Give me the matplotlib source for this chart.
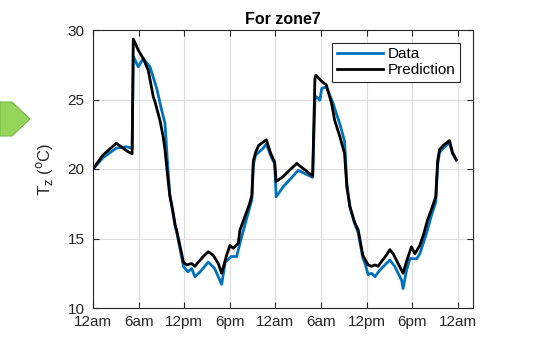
import matplotlib
matplotlib.use("Agg")
import matplotlib.pyplot as plt
from matplotlib.patches import Polygon

plt.rcParams['font.family'] = ['Liberation Sans', 'DejaVu Sans']

# hours since the first midnight
pred_t = [0, 1.3, 3.05, 4.6, 5.15, 5.3, 5.96, 6.61, 7.27, 7.93, 8.15, 8.81, 9.24, 9.47,
          9.8, 10.1, 10.5, 10.8, 11.0, 11.9, 12.32, 12.98, 13.41, 13.85, 14.51, 15.16,
          15.82, 16.48, 16.93, 17.58, 18.02, 18.45, 19.11, 19.33, 19.8, 20.2, 20.6, 20.9,
          21.1, 21.4, 21.8, 22.8, 23.4, 23.9, 24.1, 25.0, 26.8, 28.9, 29.2, 29.33, 30.1,
          30.7, 31.4, 31.8, 32.5, 33.1, 33.4, 33.8, 34.4, 34.9, 35.5, 36.2, 36.65, 37.1,
          37.5, 37.97, 38.6, 39.06, 39.5, 40.15, 40.8, 41.25, 41.9, 42.35, 43.0, 43.5,
          44.0, 44.6, 45.1, 45.35, 45.6, 46.1, 46.9, 47.3, 47.8]
pred_v = [20.0, 21.0, 21.85, 21.25, 21.1, 29.35, 28.55, 27.95, 27.1, 25.2, 24.85, 23.5, 22.3, 21.4,
          19.6, 18.1, 17.0, 16.0, 15.6, 13.3, 13.1, 13.2, 13.0, 13.3, 13.7, 14.05,
          13.8, 13.2, 12.5, 13.8, 14.5, 14.3, 14.65, 15.6, 16.3, 16.9, 17.5, 18.1,
          20.6, 21.2, 21.7, 22.1, 21.1, 20.5, 19.1, 19.45, 20.4, 19.5, 26.5, 26.75, 26.3,
          26.05, 24.7, 23.5, 22.3, 21.1, 18.7, 17.3, 16.2, 15.6, 13.8, 13.1, 13.0, 13.1,
          13.0, 13.35, 13.8, 14.2, 13.9, 13.2, 12.5, 13.35, 14.4, 13.9, 14.5, 15.3,
          16.3, 17.2, 18.0, 20.6, 21.4, 21.7, 22.05, 21.2, 20.65]

data_t = [0, 1.3, 3.05, 4.4, 5.15, 5.3, 5.96, 6.61, 7.5, 8.38, 9.03, 9.47, 9.8, 10.1,
          10.5, 10.8, 11.0, 11.9, 12.1, 12.5, 12.98, 13.41, 14.1, 15.16, 16.0, 16.93,
          17.4, 18.2, 18.9, 19.33, 20.0, 20.9, 21.1, 21.4, 22.4, 22.8, 23.5, 23.9, 24.1,
          25.0, 27.0, 28.9, 29.2, 29.4, 29.85, 30.1, 30.7, 31.6, 32.5, 33.1, 33.4, 33.8,
          34.4, 34.9, 35.5, 35.8, 36.2, 36.65, 37.1, 37.7, 39.06, 39.7, 40.6, 40.8, 41.25,
          41.7, 42.6, 43.0, 43.9, 44.6, 45.1, 45.35, 45.6, 46.1, 46.9, 47.3, 47.8]
data_v = [20.0, 20.8, 21.5, 21.6, 21.5, 28.1, 27.35, 27.95, 27.35, 25.8, 24.25, 23.3, 20.5, 18.2,
          16.9, 15.9, 15.5, 13.0, 12.85, 12.6, 12.85, 12.25, 12.6, 13.3, 12.85, 11.7,
          13.3, 13.7, 13.7, 14.65, 16.0, 17.8, 20.3, 21.0, 21.5, 21.8, 20.8, 20.4, 18.0,
          18.7, 19.9, 19.4, 25.0, 25.2, 24.95, 25.8, 25.9, 24.7, 23.2, 22.0, 19.0, 17.3,
          16.1, 15.4, 13.6, 13.2, 12.4, 12.5, 12.25, 12.7, 13.45, 13.0, 12.0, 11.4, 12.7,
          13.55, 13.55, 13.9, 15.4, 16.8, 17.6, 20.3, 21.2, 21.5, 21.9, 21.1, 20.65]

tick_hours = [0, 6, 12, 18, 24, 30, 36, 42, 48]
tick_labels = ['12am', '6am', '12pm', '6pm', '12am', '6am', '12pm', '6pm', '12am']

fig = plt.figure(figsize=(5.39, 3.39), dpi=100)
ax = fig.add_axes([93/539, 1 - 308/339, 380/539, 278/339])

# green arrow tip from the slide, cut off at the left edge
fig.patches.append(Polygon([(0, 1 - 102/339), (12/539, 1 - 102/339), (30/539, 1 - 119/339),
                            (12/539, 1 - 136/339), (0, 1 - 136/339)],
                           closed=True, transform=fig.transFigure,
                           facecolor='#95d65a', edgecolor='#74bb45', lw=0.8))

ax.plot(data_t, data_v, color='#0072BD', lw=2.0, label='Data', solid_joinstyle='round')
ax.plot(pred_t, pred_v, color='k', lw=2.0, label='Prediction', solid_joinstyle='round')

ax.set_xlim(0, 50)
ax.set_ylim(10, 30)
ax.set_xticks(tick_hours)
ax.set_xticklabels(tick_labels)
ax.set_yticks([10, 15, 20, 25, 30])
ax.grid(True, color='#dcdcdc', lw=0.8)
ax.set_axisbelow(True)
ax.tick_params(direction='in', top=True, right=True, length=4, labelsize=11,
               colors='#262626')
ax.tick_params(axis='x', pad=5)
ax.tick_params(axis='y', pad=6)
for s in ax.spines.values():
    s.set_color('#262626')
    s.set_linewidth(0.8)

ax.set_title('For zone7', fontsize=11.5, fontweight='bold', pad=4)
ax.set_ylabel(r'T$_\mathrm{z}$ ($^\mathrm{o}$C)', fontsize=12, color='#262626', labelpad=9)

leg = ax.legend(loc='upper right', bbox_to_anchor=(0.965, 0.955), fontsize=11, fancybox=False,
                framealpha=1, edgecolor='#262626', handlelength=3.0, borderpad=0.3,
                labelspacing=0.15, handletextpad=0.3, borderaxespad=0)
leg.get_frame().set_linewidth(0.8)

fig.savefig('out.png', dpi=100)
